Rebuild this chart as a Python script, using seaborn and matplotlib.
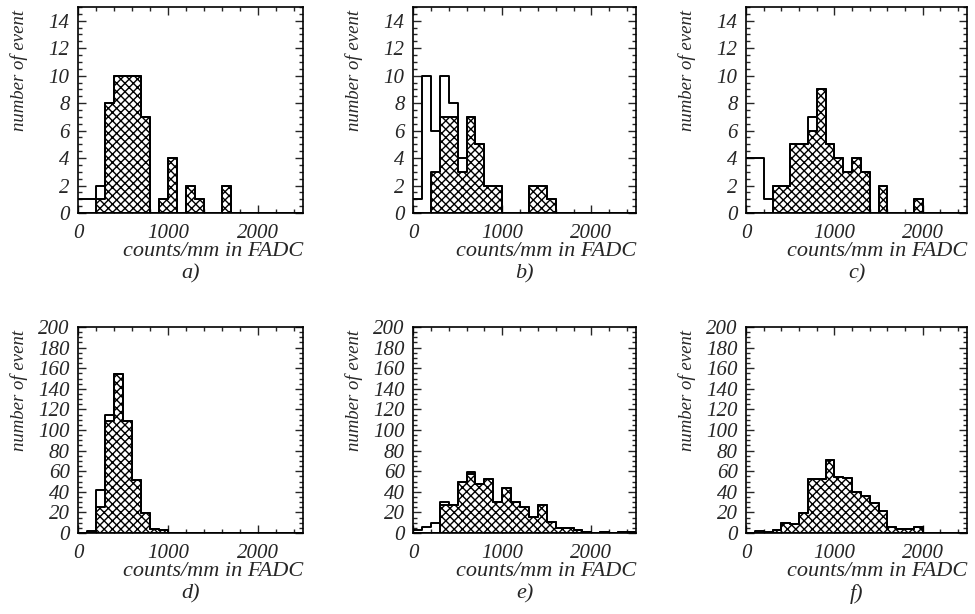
import numpy as np
import pandas as pd
import matplotlib
matplotlib.use("Agg")
import matplotlib.pyplot as plt
from matplotlib.ticker import MultipleLocator
import seaborn as sns

# ---------------- data (counts per 100-count bin, 0..2500) ----------------
bin_edges = list(range(0, 2600, 100))

a_total = [1, 1, 2, 8, 10, 10, 10, 7, 0, 1, 4, 0, 2, 1, 0, 0, 2, 0, 0, 0, 0, 0, 0, 0, 0]
a_sel   = [0, 0, 1, 8, 10, 10, 10, 7, 0, 1, 4, 0, 2, 1, 0, 0, 2, 0, 0, 0, 0, 0, 0, 0, 0]

b_total = [1, 10, 6, 10, 8, 4, 7, 5, 2, 2, 0, 0, 0, 2, 2, 1, 0, 0, 0, 0, 0, 0, 0, 0, 0]
b_sel   = [0, 0, 3, 7, 7, 3, 7, 5, 2, 2, 0, 0, 0, 2, 2, 1, 0, 0, 0, 0, 0, 0, 0, 0, 0]

c_total = [4, 4, 1, 2, 2, 5, 5, 7, 9, 5, 4, 3, 4, 3, 0, 2, 0, 0, 0, 1, 0, 0, 0, 0, 0]
c_sel   = [0, 0, 0, 2, 2, 5, 5, 6, 9, 5, 4, 3, 4, 3, 0, 2, 0, 0, 0, 1, 0, 0, 0, 0, 0]

d_total = [0, 2, 42, 115, 154, 109, 51, 19, 4, 3, 0, 0, 0, 0, 0, 0, 0, 0, 0, 0, 0, 0, 0, 0, 0]
d_sel   = [0, 0, 25, 109, 154, 109, 51, 19, 4, 3, 0, 0, 0, 0, 0, 0, 0, 0, 0, 0, 0, 0, 0, 0, 0]

e_total = [3, 6, 10, 30, 27, 50, 59, 48, 52, 30, 44, 30, 25, 16, 27, 11, 5, 5, 3, 1, 0, 1, 0, 1, 1]
e_sel   = [0, 0, 0, 27, 27, 50, 57, 48, 52, 30, 44, 30, 25, 16, 27, 11, 5, 5, 3, 1, 0, 1, 0, 1, 1]

f_total = [0, 2, 1, 3, 10, 9, 19, 52, 52, 71, 54, 53, 40, 36, 29, 21, 6, 4, 4, 6, 0, 0, 0, 0, 0]
f_sel   = [0, 0, 0, 3, 10, 9, 19, 52, 52, 71, 54, 53, 40, 36, 29, 21, 6, 4, 4, 6, 0, 0, 0, 0, 0]

panel_labels = ["a)", "b)", "c)", "d)", "e)", "f)"]
x_label = "counts/mm in FADC"
y_label = "number of event"

# ---------------- style ----------------
sns.set_style("ticks")
plt.rcParams["font.family"] = ["Liberation Serif", "DejaVu Serif"]
plt.rcParams["font.style"] = "italic"
plt.rcParams["font.size"] = 15
plt.rcParams["hatch.linewidth"] = 1.0
plt.rcParams["axes.linewidth"] = 1.2

FS = 15
fig = plt.figure(figsize=(9.75, 6.14), dpi=100)
W, H = 975.0, 614.0

cols = [(78, 303), (413, 636), (746, 967)]
rows = [(7, 213), (327, 533)]

panels = [
    (a_total, a_sel, 15, 2, 0.5),
    (b_total, b_sel, 15, 2, 0.5),
    (c_total, c_sel, 15, 2, 0.5),
    (d_total, d_sel, 200, 20, 5),
    (e_total, e_sel, 200, 20, 5),
    (f_total, f_sel, 200, 20, 5),
]

centers = [(bin_edges[k] + bin_edges[k + 1]) / 2 for k in range(len(bin_edges) - 1)]

for i, (tot, sel, ymax, ymaj, ymin_) in enumerate(panels):
    r, c = divmod(i, 3)
    x0, x1 = cols[c]
    y0, y1 = rows[r]
    h = y1 - y0
    ax = fig.add_axes([x0 / W, 1 - y1 / H, (x1 - x0) / W, h / H])

    df = pd.DataFrame({"x": centers, "total": tot, "sel": sel})

    sns.histplot(data=df, x="x", weights="sel", bins=bin_edges, element="step",
                 fill=True, facecolor="white", edgecolor="black", linewidth=1.4,
                 hatch="xxxx", alpha=1, ax=ax)
    sns.histplot(data=df, x="x", weights="total", bins=bin_edges, element="step",
                 fill=False, color="black", linewidth=1.4, ax=ax)

    ax.set_xlim(0, 2500)
    ax.set_ylim(0, ymax)
    ax.xaxis.set_major_locator(MultipleLocator(1000))
    ax.xaxis.set_minor_locator(MultipleLocator(200))
    ax.yaxis.set_major_locator(MultipleLocator(ymaj))
    ax.yaxis.set_minor_locator(MultipleLocator(ymin_))
    ax.tick_params(which="both", direction="in", top=True, right=True,
                   labelsize=FS, width=1.0)
    ax.tick_params(which="major", length=6)
    ax.tick_params(axis="x", which="major", pad=8)
    ax.tick_params(axis="y", which="major", pad=6)
    ax.tick_params(which="minor", length=3)
    for lab in ax.get_xticklabels() + ax.get_yticklabels():
        lab.set_fontstyle("italic")

    for s in ax.spines.values():
        s.set_visible(True)
        s.set_color("black")

    ax.set_xlabel(x_label, fontsize=16, loc="right", fontstyle="italic")
    ax.xaxis.set_label_coords(1.0, -39 / h)
    ax.xaxis.label.set_va("center")
    ax.set_ylabel(y_label, fontsize=13.5, loc="top", fontstyle="italic")
    ax.yaxis.set_label_coords(-50 / (x1 - x0), 1.0 - 3 / h)

    ax.text(0.5, -61 / h, panel_labels[i], transform=ax.transAxes,
            ha="center", va="center", fontsize=16, fontstyle="italic")

fig.savefig("out.png", dpi=100)
